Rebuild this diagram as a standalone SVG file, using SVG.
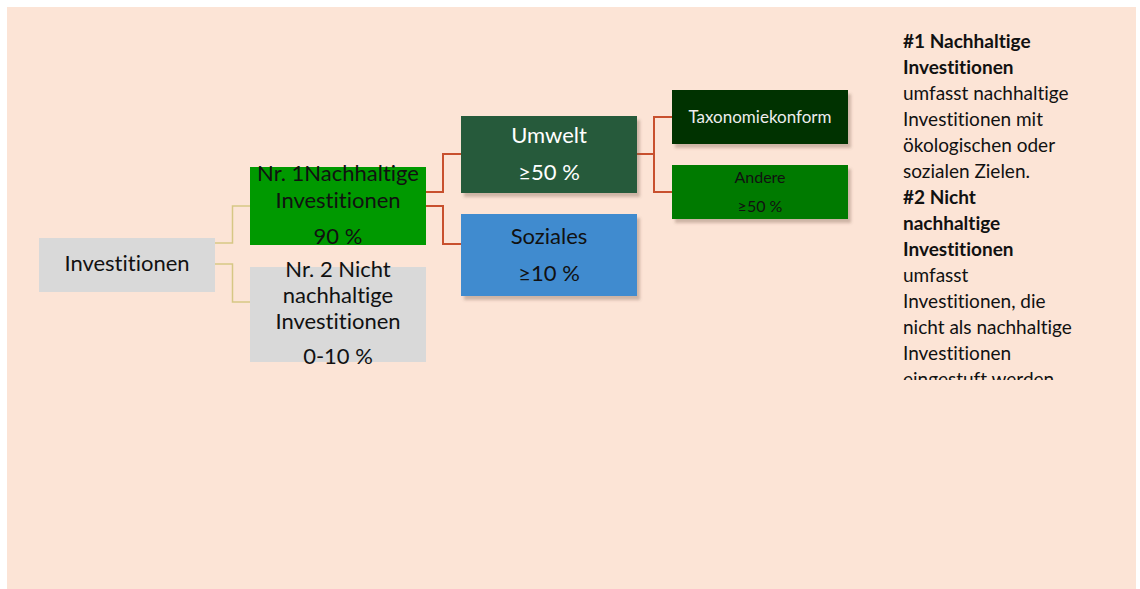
<svg xmlns="http://www.w3.org/2000/svg" width="1140" height="589" viewBox="0 0 1140 589">
<defs>
<style>
text{font-variant-ligatures:none;font-feature-settings:"liga" 0}
.t{font-family:Lato,"Open Sans","Liberation Sans",sans-serif;text-anchor:middle}
.big{font-size:22px}
.sm{font-size:16px}
.side{font-family:Lato,"Open Sans","Liberation Sans",sans-serif;font-size:19px;fill:#111}
.b{font-weight:bold}
.tan{fill:none;stroke:#D6C785;stroke-width:1.5}
.red{fill:none;stroke:#C8502E;stroke-width:2}
</style>
<filter id="sh" x="-10%" y="-10%" width="130%" height="140%">
<feDropShadow dx="3" dy="4" stdDeviation="1.8" flood-color="#7a5a48" flood-opacity="0.35"/>
</filter>
<clipPath id="sideclip"><rect x="880" y="20" width="240" height="360"/></clipPath>
</defs>
<rect x="7" y="7" width="1129" height="582" fill="#FCE4D6"/>
<g id="connectors">
<path class="tan" d="M215,243 H232.5 V206 H250"/>
<path class="tan" d="M215,264 H232.5 V302 H250"/>
<path class="red" d="M426,192 H443 V154 H461"/>
<path class="red" d="M426,206 H443 V244 H461"/>
<path class="red" d="M637,154 H654 V117 H672"/>
<path class="red" d="M654,154 V192 H672"/>
</g>
<g id="node-investitionen">
<rect x="39" y="238" width="176" height="54" fill="#D9D9D9"/>
<text class="t big" x="127" y="271" fill="#111">Investitionen</text>
</g>
<g id="node-nr1">
<rect x="250" y="167" width="176" height="78" fill="#009900"/>
<text class="t big" x="338" y="181" fill="#111">Nr. 1Nachhaltige</text>
<text class="t big" x="338" y="208" fill="#111">Investitionen</text>
<text class="t big" x="338" y="244" fill="#111">90 %</text>
</g>
<g id="node-nr2">
<rect x="250" y="267" width="176" height="95" fill="#D9D9D9"/>
<text class="t big" x="338" y="277" fill="#111">Nr. 2 Nicht</text>
<text class="t big" x="338" y="303" fill="#111">nachhaltige</text>
<text class="t big" x="338" y="329" fill="#111">Investitionen</text>
<text class="t big" x="338" y="364" fill="#111">0-10 %</text>
</g>
<g id="node-umwelt">
<rect x="461" y="116" width="176" height="77" fill="#265A3A" filter="url(#sh)"/>
<text class="t big" x="549" y="143" fill="#FFFFFF">Umwelt</text>
<text class="t big" x="549" y="180" fill="#FFFFFF">≥50 %</text>
</g>
<g id="node-soziales">
<rect x="461" y="214" width="176" height="82" fill="#408BCF" filter="url(#sh)"/>
<text class="t big" x="549" y="244" fill="#111">Soziales</text>
<text class="t big" x="549" y="281" fill="#111">≥10 %</text>
</g>
<g id="node-taxonomiekonform">
<rect x="672" y="90" width="176" height="54" fill="#003300" filter="url(#sh)"/>
<text class="t" x="760" y="123" font-size="17" fill="#EDEDED">Taxonomiekonform</text>
</g>
<g id="node-andere">
<rect x="672" y="165" width="176" height="54" fill="#007A00" filter="url(#sh)"/>
<text class="t sm" x="760" y="183" fill="#111">Andere</text>
<text class="t sm" x="760" y="212" fill="#111">≥50 %</text>
</g>
<g id="legend" clip-path="url(#sideclip)">
<text class="side b" x="903" y="47.5">#1 Nachhaltige</text>
<text class="side b" x="903" y="73.5">Investitionen</text>
<text class="side" x="903" y="99.5">umfasst nachhaltige</text>
<text class="side" x="903" y="125.5">Investitionen mit</text>
<text class="side" x="903" y="151.5">ökologischen oder</text>
<text class="side" x="903" y="177.5">sozialen Zielen.</text>
<text class="side b" x="903" y="203.5">#2 Nicht</text>
<text class="side b" x="903" y="229.5">nachhaltige</text>
<text class="side b" x="903" y="255.5">Investitionen</text>
<text class="side" x="903" y="281.5">umfasst</text>
<text class="side" x="903" y="307.5">Investitionen, die</text>
<text class="side" x="903" y="333.5">nicht als nachhaltige</text>
<text class="side" x="903" y="359.5">Investitionen</text>
<text class="side" x="903" y="385.5">eingestuft werden.</text>
</g>
</svg>
